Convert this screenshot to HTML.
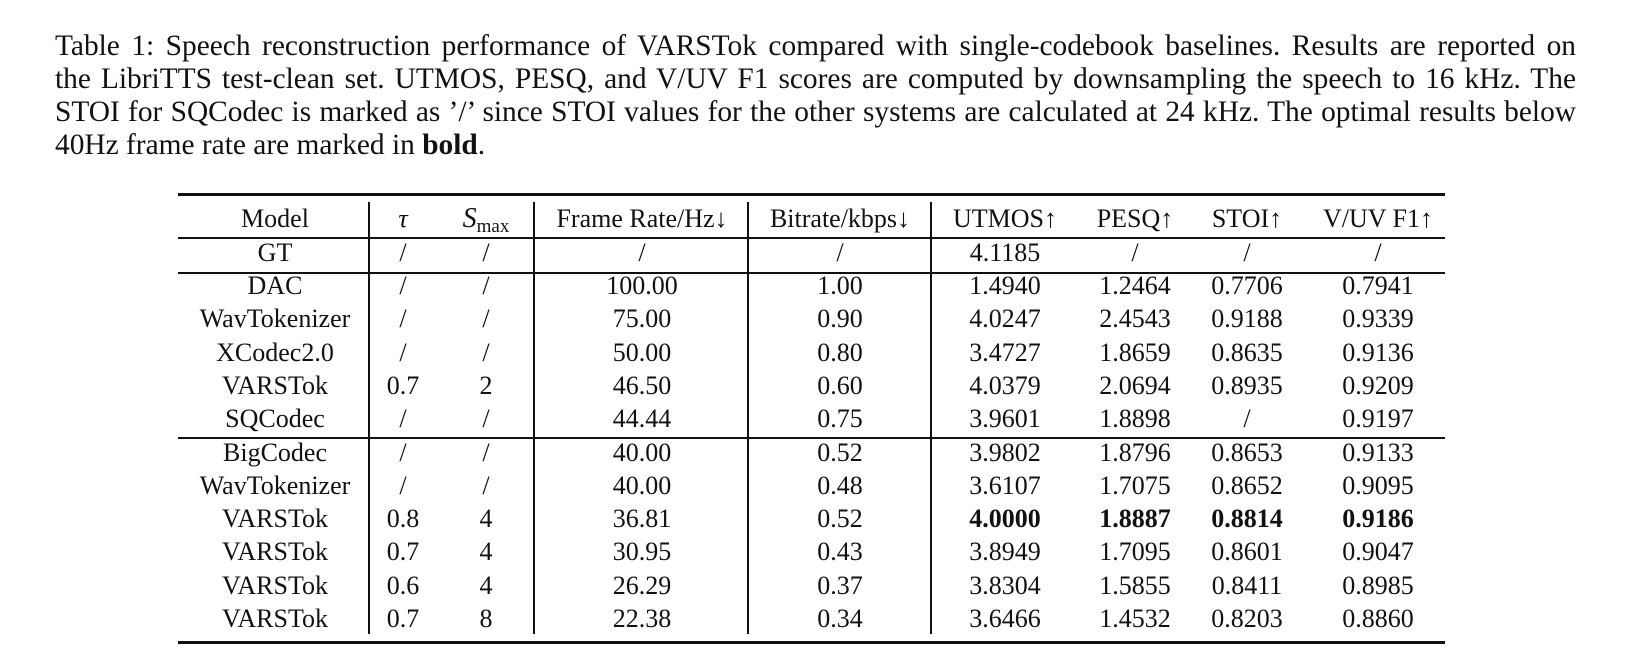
<!DOCTYPE html>
<html><head><meta charset="utf-8"><style>
body{margin:0;width:1630px;height:670px;background:#fff;position:relative;overflow:hidden;font-family:"Liberation Serif",serif;color:#111}
.cap{position:absolute;left:55px;top:30px;width:1521px;font-size:29.4px;line-height:33px}
.cap span{display:block;text-align:justify;text-align-last:justify;white-space:nowrap}
.cap span.last{text-align-last:left}
.r{position:absolute;left:178px;width:1267px;background:#111}
.v{position:absolute;width:1.5px;background:#111;top:202px;height:432px}
.c{position:absolute;font-size:26px;line-height:30px;white-space:nowrap;transform:translateX(-50%)}
b{font-weight:bold}
</style></head><body>
<div class="cap"><span>Table 1: Speech reconstruction performance of VARSTok compared with single-codebook baselines. Results are reported on</span><span>the LibriTTS test-clean set. UTMOS, PESQ, and V/UV F1 scores are computed by downsampling the speech to 16 kHz. The</span><span>STOI for SQCodec is marked as ’/’ since STOI values for the other systems are calculated at 24 kHz. The optimal results below</span><span class="last">40Hz frame rate are marked in <b>bold</b>.</span></div>
<div class="r" style="top:193px;height:2.5px"></div>
<div class="r" style="top:237px;height:1.5px"></div>
<div class="r" style="top:272px;height:1.5px"></div>
<div class="r" style="top:437px;height:1.5px"></div>
<div class="r" style="top:641px;height:2.5px"></div>
<div class="v" style="left:368px"></div>
<div class="v" style="left:533px"></div>
<div class="v" style="left:747px"></div>
<div class="v" style="left:930px"></div>
<div id="t"></div>
<script>
const cols=[275,403,486,642,840,1005,1135,1247,1378];
const header=['Model','<i>τ</i>','<i style="font-size:28px">S</i><span style="font-size:19px;position:relative;top:5px">max</span>','Frame Rate/Hz↓','Bitrate/kbps↓','UTMOS↑','PESQ↑','STOI↑','V/UV F1↑'];
const rows=[
['GT','/','/','/','/','4.1185','/','/','/'],
['DAC','/','/','100.00','1.00','1.4940','1.2464','0.7706','0.7941'],
['WavTokenizer','/','/','75.00','0.90','4.0247','2.4543','0.9188','0.9339'],
['XCodec2.0','/','/','50.00','0.80','3.4727','1.8659','0.8635','0.9136'],
['VARSTok','0.7','2','46.50','0.60','4.0379','2.0694','0.8935','0.9209'],
['SQCodec','/','/','44.44','0.75','3.9601','1.8898','/','0.9197'],
['BigCodec','/','/','40.00','0.52','3.9802','1.8796','0.8653','0.9133'],
['WavTokenizer','/','/','40.00','0.48','3.6107','1.7075','0.8652','0.9095'],
['VARSTok','0.8','4','36.81','0.52','<b>4.0000</b>','<b>1.8887</b>','<b>0.8814</b>','<b>0.9186</b>'],
['VARSTok','0.7','4','30.95','0.43','3.8949','1.7095','0.8601','0.9047'],
['VARSTok','0.6','4','26.29','0.37','3.8304','1.5855','0.8411','0.8985'],
['VARSTok','0.7','8','22.38','0.34','3.6466','1.4532','0.8203','0.8860']];
const t=document.getElementById('t');
function cell(txt,x,y,name){const d=document.createElement('div');d.className='c';d.innerHTML=txt;d.style.left=x+'px';d.style.top=(y-15)+'px';


t.appendChild(d);}
header.forEach((h,i)=>cell(h,cols[i],219,'header-cell'));
rows.forEach((r,ri)=>{const y=253+ri*33.2+(ri>=6?0.5:0);r.forEach((v,i)=>cell(v,cols[i],y,'table-cell'));});
</script>
</body></html>
